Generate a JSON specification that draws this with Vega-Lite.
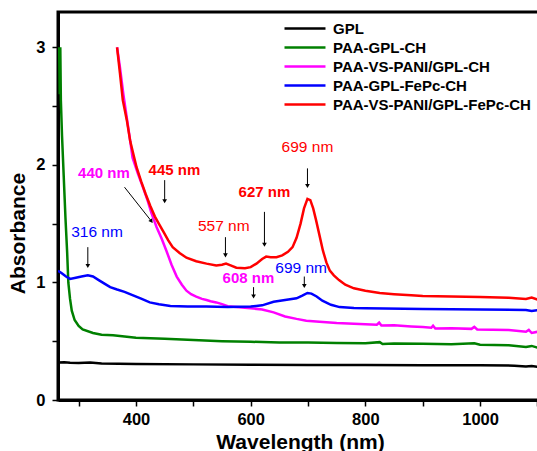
{
  "$schema": "https://vega.github.io/schema/vega-lite/v6.json",
  "width": 484,
  "height": 388,
  "autosize": {"type": "none"},
  "padding": {"left": 58, "top": 12, "right": 0, "bottom": 51},
  "background": "white",
  "config": {
    "font": "Liberation Sans",
    "view": {"stroke": "black", "strokeWidth": 3},
    "axis": {
      "grid": false,
      "domainColor": "black",
      "domainWidth": 3,
      "tickColor": "black",
      "tickWidth": 1.5,
      "tickSize": 6,
      "labelColor": "black",
      "labelFont": "Liberation Sans",
      "labelFontSize": 16.5,
      "labelFontWeight": "bold",
      "titleColor": "black",
      "titleFont": "Liberation Sans",
      "titleFontSize": 21,
      "titleFontWeight": "bold"
    }
  },
  "datasets": {
    "spectra": [
      {"series": "GPL", "wl": 264, "abs": 0.318},
      {"series": "GPL", "wl": 275, "abs": 0.322},
      {"series": "GPL", "wl": 285, "abs": 0.316},
      {"series": "GPL", "wl": 300, "abs": 0.314},
      {"series": "GPL", "wl": 320, "abs": 0.318},
      {"series": "GPL", "wl": 340, "abs": 0.31},
      {"series": "GPL", "wl": 400, "abs": 0.306},
      {"series": "GPL", "wl": 500, "abs": 0.303},
      {"series": "GPL", "wl": 600, "abs": 0.3},
      {"series": "GPL", "wl": 700, "abs": 0.298},
      {"series": "GPL", "wl": 800, "abs": 0.297},
      {"series": "GPL", "wl": 900, "abs": 0.296},
      {"series": "GPL", "wl": 1000, "abs": 0.295},
      {"series": "GPL", "wl": 1060, "abs": 0.292},
      {"series": "GPL", "wl": 1080, "abs": 0.286},
      {"series": "GPL", "wl": 1090, "abs": 0.29},
      {"series": "GPL", "wl": 1100, "abs": 0.283},

      {"series": "PAA-GPL-CH", "wl": 266, "abs": 3.0},
      {"series": "PAA-GPL-CH", "wl": 267, "abs": 2.6},
      {"series": "PAA-GPL-CH", "wl": 268, "abs": 3.0},
      {"series": "PAA-GPL-CH", "wl": 269, "abs": 2.55},
      {"series": "PAA-GPL-CH", "wl": 271, "abs": 2.25},
      {"series": "PAA-GPL-CH", "wl": 274, "abs": 1.9},
      {"series": "PAA-GPL-CH", "wl": 277, "abs": 1.55},
      {"series": "PAA-GPL-CH", "wl": 280, "abs": 1.25},
      {"series": "PAA-GPL-CH", "wl": 282, "abs": 1.0},
      {"series": "PAA-GPL-CH", "wl": 285, "abs": 0.86},
      {"series": "PAA-GPL-CH", "wl": 288, "abs": 0.76},
      {"series": "PAA-GPL-CH", "wl": 293, "abs": 0.68},
      {"series": "PAA-GPL-CH", "wl": 300, "abs": 0.63},
      {"series": "PAA-GPL-CH", "wl": 307, "abs": 0.6},
      {"series": "PAA-GPL-CH", "wl": 325, "abs": 0.57},
      {"series": "PAA-GPL-CH", "wl": 340, "abs": 0.555},
      {"series": "PAA-GPL-CH", "wl": 360, "abs": 0.55},
      {"series": "PAA-GPL-CH", "wl": 380, "abs": 0.54},
      {"series": "PAA-GPL-CH", "wl": 400, "abs": 0.53},
      {"series": "PAA-GPL-CH", "wl": 450, "abs": 0.52},
      {"series": "PAA-GPL-CH", "wl": 500, "abs": 0.51},
      {"series": "PAA-GPL-CH", "wl": 550, "abs": 0.5},
      {"series": "PAA-GPL-CH", "wl": 600, "abs": 0.495},
      {"series": "PAA-GPL-CH", "wl": 650, "abs": 0.49},
      {"series": "PAA-GPL-CH", "wl": 700, "abs": 0.488},
      {"series": "PAA-GPL-CH", "wl": 750, "abs": 0.485},
      {"series": "PAA-GPL-CH", "wl": 800, "abs": 0.482},
      {"series": "PAA-GPL-CH", "wl": 825, "abs": 0.492},
      {"series": "PAA-GPL-CH", "wl": 830, "abs": 0.476},
      {"series": "PAA-GPL-CH", "wl": 850, "abs": 0.48},
      {"series": "PAA-GPL-CH", "wl": 900, "abs": 0.478},
      {"series": "PAA-GPL-CH", "wl": 950, "abs": 0.475},
      {"series": "PAA-GPL-CH", "wl": 990, "abs": 0.482},
      {"series": "PAA-GPL-CH", "wl": 1000, "abs": 0.47},
      {"series": "PAA-GPL-CH", "wl": 1050, "abs": 0.465},
      {"series": "PAA-GPL-CH", "wl": 1080, "abs": 0.45},
      {"series": "PAA-GPL-CH", "wl": 1090, "abs": 0.46},
      {"series": "PAA-GPL-CH", "wl": 1100, "abs": 0.445},

      {"series": "PAA-VS-PANI/GPL-CH", "wl": 367, "abs": 3.0},
      {"series": "PAA-VS-PANI/GPL-CH", "wl": 372, "abs": 2.83},
      {"series": "PAA-VS-PANI/GPL-CH", "wl": 378, "abs": 2.6},
      {"series": "PAA-VS-PANI/GPL-CH", "wl": 384, "abs": 2.4},
      {"series": "PAA-VS-PANI/GPL-CH", "wl": 390, "abs": 2.2},
      {"series": "PAA-VS-PANI/GPL-CH", "wl": 394, "abs": 2.06},
      {"series": "PAA-VS-PANI/GPL-CH", "wl": 403, "abs": 1.93},
      {"series": "PAA-VS-PANI/GPL-CH", "wl": 412, "abs": 1.81},
      {"series": "PAA-VS-PANI/GPL-CH", "wl": 420, "abs": 1.7},
      {"series": "PAA-VS-PANI/GPL-CH", "wl": 427, "abs": 1.59},
      {"series": "PAA-VS-PANI/GPL-CH", "wl": 436, "abs": 1.47},
      {"series": "PAA-VS-PANI/GPL-CH", "wl": 445, "abs": 1.37},
      {"series": "PAA-VS-PANI/GPL-CH", "wl": 453, "abs": 1.27},
      {"series": "PAA-VS-PANI/GPL-CH", "wl": 462, "abs": 1.15},
      {"series": "PAA-VS-PANI/GPL-CH", "wl": 471, "abs": 1.05},
      {"series": "PAA-VS-PANI/GPL-CH", "wl": 480, "abs": 0.98},
      {"series": "PAA-VS-PANI/GPL-CH", "wl": 488, "abs": 0.93},
      {"series": "PAA-VS-PANI/GPL-CH", "wl": 496, "abs": 0.9},
      {"series": "PAA-VS-PANI/GPL-CH", "wl": 505, "abs": 0.88},
      {"series": "PAA-VS-PANI/GPL-CH", "wl": 515, "abs": 0.86},
      {"series": "PAA-VS-PANI/GPL-CH", "wl": 523, "abs": 0.85},
      {"series": "PAA-VS-PANI/GPL-CH", "wl": 530, "abs": 0.84},
      {"series": "PAA-VS-PANI/GPL-CH", "wl": 540, "abs": 0.83},
      {"series": "PAA-VS-PANI/GPL-CH", "wl": 550, "abs": 0.815},
      {"series": "PAA-VS-PANI/GPL-CH", "wl": 560, "abs": 0.798},
      {"series": "PAA-VS-PANI/GPL-CH", "wl": 580, "abs": 0.788},
      {"series": "PAA-VS-PANI/GPL-CH", "wl": 600, "abs": 0.78},
      {"series": "PAA-VS-PANI/GPL-CH", "wl": 620, "abs": 0.77},
      {"series": "PAA-VS-PANI/GPL-CH", "wl": 640, "abs": 0.745},
      {"series": "PAA-VS-PANI/GPL-CH", "wl": 660, "abs": 0.71},
      {"series": "PAA-VS-PANI/GPL-CH", "wl": 680, "abs": 0.69},
      {"series": "PAA-VS-PANI/GPL-CH", "wl": 697, "abs": 0.675},
      {"series": "PAA-VS-PANI/GPL-CH", "wl": 720, "abs": 0.665},
      {"series": "PAA-VS-PANI/GPL-CH", "wl": 750, "abs": 0.655},
      {"series": "PAA-VS-PANI/GPL-CH", "wl": 800, "abs": 0.645},
      {"series": "PAA-VS-PANI/GPL-CH", "wl": 820, "abs": 0.64},
      {"series": "PAA-VS-PANI/GPL-CH", "wl": 824, "abs": 0.658},
      {"series": "PAA-VS-PANI/GPL-CH", "wl": 828, "abs": 0.633},
      {"series": "PAA-VS-PANI/GPL-CH", "wl": 850, "abs": 0.635},
      {"series": "PAA-VS-PANI/GPL-CH", "wl": 880, "abs": 0.625},
      {"series": "PAA-VS-PANI/GPL-CH", "wl": 900, "abs": 0.62},
      {"series": "PAA-VS-PANI/GPL-CH", "wl": 915, "abs": 0.615},
      {"series": "PAA-VS-PANI/GPL-CH", "wl": 918, "abs": 0.632},
      {"series": "PAA-VS-PANI/GPL-CH", "wl": 922, "abs": 0.608},
      {"series": "PAA-VS-PANI/GPL-CH", "wl": 950, "abs": 0.61},
      {"series": "PAA-VS-PANI/GPL-CH", "wl": 985, "abs": 0.605},
      {"series": "PAA-VS-PANI/GPL-CH", "wl": 990, "abs": 0.622},
      {"series": "PAA-VS-PANI/GPL-CH", "wl": 995, "abs": 0.6},
      {"series": "PAA-VS-PANI/GPL-CH", "wl": 1050, "abs": 0.595},
      {"series": "PAA-VS-PANI/GPL-CH", "wl": 1080, "abs": 0.58},
      {"series": "PAA-VS-PANI/GPL-CH", "wl": 1085, "abs": 0.596},
      {"series": "PAA-VS-PANI/GPL-CH", "wl": 1090, "abs": 0.57},
      {"series": "PAA-VS-PANI/GPL-CH", "wl": 1100, "abs": 0.58},

      {"series": "PAA-GPL-FePc-CH", "wl": 264, "abs": 1.1},
      {"series": "PAA-GPL-FePc-CH", "wl": 270, "abs": 1.08},
      {"series": "PAA-GPL-FePc-CH", "wl": 278, "abs": 1.05},
      {"series": "PAA-GPL-FePc-CH", "wl": 285, "abs": 1.03},
      {"series": "PAA-GPL-FePc-CH", "wl": 295, "abs": 1.04},
      {"series": "PAA-GPL-FePc-CH", "wl": 305, "abs": 1.05},
      {"series": "PAA-GPL-FePc-CH", "wl": 316, "abs": 1.06},
      {"series": "PAA-GPL-FePc-CH", "wl": 325, "abs": 1.05},
      {"series": "PAA-GPL-FePc-CH", "wl": 335, "abs": 1.02},
      {"series": "PAA-GPL-FePc-CH", "wl": 345, "abs": 0.99},
      {"series": "PAA-GPL-FePc-CH", "wl": 355, "abs": 0.96},
      {"series": "PAA-GPL-FePc-CH", "wl": 367, "abs": 0.94},
      {"series": "PAA-GPL-FePc-CH", "wl": 380, "abs": 0.92},
      {"series": "PAA-GPL-FePc-CH", "wl": 395, "abs": 0.89},
      {"series": "PAA-GPL-FePc-CH", "wl": 410, "abs": 0.86},
      {"series": "PAA-GPL-FePc-CH", "wl": 424, "abs": 0.83},
      {"series": "PAA-GPL-FePc-CH", "wl": 440, "abs": 0.815},
      {"series": "PAA-GPL-FePc-CH", "wl": 460, "abs": 0.8},
      {"series": "PAA-GPL-FePc-CH", "wl": 490, "abs": 0.795},
      {"series": "PAA-GPL-FePc-CH", "wl": 523, "abs": 0.795},
      {"series": "PAA-GPL-FePc-CH", "wl": 560, "abs": 0.79},
      {"series": "PAA-GPL-FePc-CH", "wl": 600, "abs": 0.795},
      {"series": "PAA-GPL-FePc-CH", "wl": 620, "abs": 0.805},
      {"series": "PAA-GPL-FePc-CH", "wl": 640, "abs": 0.835},
      {"series": "PAA-GPL-FePc-CH", "wl": 660, "abs": 0.85},
      {"series": "PAA-GPL-FePc-CH", "wl": 680, "abs": 0.865},
      {"series": "PAA-GPL-FePc-CH", "wl": 690, "abs": 0.888},
      {"series": "PAA-GPL-FePc-CH", "wl": 699, "abs": 0.91},
      {"series": "PAA-GPL-FePc-CH", "wl": 706, "abs": 0.905},
      {"series": "PAA-GPL-FePc-CH", "wl": 715, "abs": 0.88},
      {"series": "PAA-GPL-FePc-CH", "wl": 725, "abs": 0.845},
      {"series": "PAA-GPL-FePc-CH", "wl": 740, "abs": 0.81},
      {"series": "PAA-GPL-FePc-CH", "wl": 755, "abs": 0.79},
      {"series": "PAA-GPL-FePc-CH", "wl": 780, "abs": 0.782},
      {"series": "PAA-GPL-FePc-CH", "wl": 800, "abs": 0.78},
      {"series": "PAA-GPL-FePc-CH", "wl": 900, "abs": 0.775},
      {"series": "PAA-GPL-FePc-CH", "wl": 1000, "abs": 0.77},
      {"series": "PAA-GPL-FePc-CH", "wl": 1080, "abs": 0.765},
      {"series": "PAA-GPL-FePc-CH", "wl": 1090, "abs": 0.758},
      {"series": "PAA-GPL-FePc-CH", "wl": 1100, "abs": 0.764},

      {"series": "PAA-VS-PANI/GPL-FePc-CH", "wl": 367, "abs": 3.0},
      {"series": "PAA-VS-PANI/GPL-FePc-CH", "wl": 372, "abs": 2.78},
      {"series": "PAA-VS-PANI/GPL-FePc-CH", "wl": 377, "abs": 2.55},
      {"series": "PAA-VS-PANI/GPL-FePc-CH", "wl": 384, "abs": 2.38},
      {"series": "PAA-VS-PANI/GPL-FePc-CH", "wl": 390, "abs": 2.2},
      {"series": "PAA-VS-PANI/GPL-FePc-CH", "wl": 396, "abs": 2.08},
      {"series": "PAA-VS-PANI/GPL-FePc-CH", "wl": 401, "abs": 1.98},
      {"series": "PAA-VS-PANI/GPL-FePc-CH", "wl": 409, "abs": 1.86},
      {"series": "PAA-VS-PANI/GPL-FePc-CH", "wl": 417, "abs": 1.75},
      {"series": "PAA-VS-PANI/GPL-FePc-CH", "wl": 425, "abs": 1.65},
      {"series": "PAA-VS-PANI/GPL-FePc-CH", "wl": 433, "abs": 1.56},
      {"series": "PAA-VS-PANI/GPL-FePc-CH", "wl": 441, "abs": 1.49},
      {"series": "PAA-VS-PANI/GPL-FePc-CH", "wl": 448, "abs": 1.43},
      {"series": "PAA-VS-PANI/GPL-FePc-CH", "wl": 456, "abs": 1.36},
      {"series": "PAA-VS-PANI/GPL-FePc-CH", "wl": 464, "abs": 1.3},
      {"series": "PAA-VS-PANI/GPL-FePc-CH", "wl": 476, "abs": 1.25},
      {"series": "PAA-VS-PANI/GPL-FePc-CH", "wl": 488, "abs": 1.21},
      {"series": "PAA-VS-PANI/GPL-FePc-CH", "wl": 505, "abs": 1.18},
      {"series": "PAA-VS-PANI/GPL-FePc-CH", "wl": 523, "abs": 1.16},
      {"series": "PAA-VS-PANI/GPL-FePc-CH", "wl": 540, "abs": 1.145},
      {"series": "PAA-VS-PANI/GPL-FePc-CH", "wl": 550, "abs": 1.15},
      {"series": "PAA-VS-PANI/GPL-FePc-CH", "wl": 557, "abs": 1.16},
      {"series": "PAA-VS-PANI/GPL-FePc-CH", "wl": 565, "abs": 1.145},
      {"series": "PAA-VS-PANI/GPL-FePc-CH", "wl": 575, "abs": 1.125},
      {"series": "PAA-VS-PANI/GPL-FePc-CH", "wl": 590, "abs": 1.12},
      {"series": "PAA-VS-PANI/GPL-FePc-CH", "wl": 600, "abs": 1.13},
      {"series": "PAA-VS-PANI/GPL-FePc-CH", "wl": 610, "abs": 1.16},
      {"series": "PAA-VS-PANI/GPL-FePc-CH", "wl": 620, "abs": 1.2},
      {"series": "PAA-VS-PANI/GPL-FePc-CH", "wl": 627, "abs": 1.22},
      {"series": "PAA-VS-PANI/GPL-FePc-CH", "wl": 635, "abs": 1.215},
      {"series": "PAA-VS-PANI/GPL-FePc-CH", "wl": 645, "abs": 1.215},
      {"series": "PAA-VS-PANI/GPL-FePc-CH", "wl": 655, "abs": 1.23},
      {"series": "PAA-VS-PANI/GPL-FePc-CH", "wl": 665, "abs": 1.26},
      {"series": "PAA-VS-PANI/GPL-FePc-CH", "wl": 673, "abs": 1.3},
      {"series": "PAA-VS-PANI/GPL-FePc-CH", "wl": 680, "abs": 1.38},
      {"series": "PAA-VS-PANI/GPL-FePc-CH", "wl": 687, "abs": 1.5},
      {"series": "PAA-VS-PANI/GPL-FePc-CH", "wl": 693, "abs": 1.63},
      {"series": "PAA-VS-PANI/GPL-FePc-CH", "wl": 699, "abs": 1.71},
      {"series": "PAA-VS-PANI/GPL-FePc-CH", "wl": 704, "abs": 1.7},
      {"series": "PAA-VS-PANI/GPL-FePc-CH", "wl": 709, "abs": 1.63},
      {"series": "PAA-VS-PANI/GPL-FePc-CH", "wl": 714, "abs": 1.53},
      {"series": "PAA-VS-PANI/GPL-FePc-CH", "wl": 720, "abs": 1.4},
      {"series": "PAA-VS-PANI/GPL-FePc-CH", "wl": 726, "abs": 1.27},
      {"series": "PAA-VS-PANI/GPL-FePc-CH", "wl": 732, "abs": 1.17},
      {"series": "PAA-VS-PANI/GPL-FePc-CH", "wl": 738, "abs": 1.1},
      {"series": "PAA-VS-PANI/GPL-FePc-CH", "wl": 745, "abs": 1.06},
      {"series": "PAA-VS-PANI/GPL-FePc-CH", "wl": 754, "abs": 1.02},
      {"series": "PAA-VS-PANI/GPL-FePc-CH", "wl": 765, "abs": 0.98},
      {"series": "PAA-VS-PANI/GPL-FePc-CH", "wl": 780, "abs": 0.95},
      {"series": "PAA-VS-PANI/GPL-FePc-CH", "wl": 800, "abs": 0.93},
      {"series": "PAA-VS-PANI/GPL-FePc-CH", "wl": 825, "abs": 0.91},
      {"series": "PAA-VS-PANI/GPL-FePc-CH", "wl": 850, "abs": 0.9},
      {"series": "PAA-VS-PANI/GPL-FePc-CH", "wl": 880, "abs": 0.89},
      {"series": "PAA-VS-PANI/GPL-FePc-CH", "wl": 900, "abs": 0.885},
      {"series": "PAA-VS-PANI/GPL-FePc-CH", "wl": 950, "abs": 0.88},
      {"series": "PAA-VS-PANI/GPL-FePc-CH", "wl": 1000, "abs": 0.875},
      {"series": "PAA-VS-PANI/GPL-FePc-CH", "wl": 1050, "abs": 0.87},
      {"series": "PAA-VS-PANI/GPL-FePc-CH", "wl": 1080, "abs": 0.86},
      {"series": "PAA-VS-PANI/GPL-FePc-CH", "wl": 1090, "abs": 0.872},
      {"series": "PAA-VS-PANI/GPL-FePc-CH", "wl": 1100, "abs": 0.855}
    ],
    "labels": [
      {"series": "PAA-GPL-FePc-CH", "text": "316 nm", "wl": 332, "abs": 1.43, "kind": "plain"},
      {"series": "PAA-VS-PANI/GPL-CH", "text": "440 nm", "wl": 344, "abs": 1.93, "kind": "bold"},
      {"series": "PAA-VS-PANI/GPL-FePc-CH", "text": "445 nm", "wl": 467, "abs": 1.955, "kind": "bold"},
      {"series": "PAA-VS-PANI/GPL-FePc-CH", "text": "557 nm", "wl": 553, "abs": 1.48, "kind": "plain"},
      {"series": "PAA-VS-PANI/GPL-FePc-CH", "text": "627 nm", "wl": 624, "abs": 1.77, "kind": "bold"},
      {"series": "PAA-VS-PANI/GPL-FePc-CH", "text": "699 nm", "wl": 699, "abs": 2.15, "kind": "plain"},
      {"series": "PAA-VS-PANI/GPL-CH", "text": "608 nm", "wl": 596, "abs": 1.04, "kind": "bold"},
      {"series": "PAA-GPL-FePc-CH", "text": "699 nm", "wl": 688, "abs": 1.12, "kind": "plain"}
    ],
    "arrows": [
      {"label": "316 nm", "wl": 316, "abs": 1.3, "wl2": 316, "abs2": 1.14},
      {"label": "440 nm", "wl": 380, "abs": 1.81, "wl2": 427, "abs2": 1.52},
      {"label": "445 nm", "wl": 450, "abs": 1.87, "wl2": 450, "abs2": 1.69},
      {"label": "557 nm", "wl": 556, "abs": 1.385, "wl2": 556, "abs2": 1.23},
      {"label": "627 nm", "wl": 624, "abs": 1.6, "wl2": 624, "abs2": 1.32},
      {"label": "699 nm red", "wl": 699, "abs": 1.97, "wl2": 699, "abs2": 1.82},
      {"label": "608 nm", "wl": 605, "abs": 0.96, "wl2": 605, "abs2": 0.88},
      {"label": "699 nm blue", "wl": 693.5, "abs": 1.05, "wl2": 693.5, "abs2": 0.97}
    ]
  },
  "layer": [
    {
      "data": {"name": "spectra"},
      "mark": {"type": "line", "strokeWidth": 2.5, "clip": true},
      "encoding": {
        "x": {
          "field": "wl", "type": "quantitative",
          "scale": {"domain": [264, 1108], "nice": false, "zero": false},
          "axis": {
            "title": "Wavelength (nm)",
            "values": [300, 400, 500, 600, 700, 800, 900, 1000, 1100],
            "labelExpr": "datum.value % 200 === 0 ? format(datum.value, 'd') : ''",
            "labelPadding": 5,
            "titleY": 48,
            "titleBaseline": "alphabetic"
          }
        },
        "y": {
          "field": "abs", "type": "quantitative",
          "scale": {"domain": [0, 3.3], "nice": false},
          "axis": {
            "title": "Absorbance",
            "values": [0, 0.5, 1, 1.5, 2, 2.5, 3],
            "labelExpr": "datum.value % 1 === 0 ? format(datum.value, 'd') : ''",
            "labelPadding": 7,
            "titleX": -40,
            "titleY": 221,
            "titleAlign": "center",
            "titleBaseline": "middle"
          }
        },
        "color": {
          "field": "series", "type": "nominal",
          "scale": {
            "domain": ["GPL", "PAA-GPL-CH", "PAA-VS-PANI/GPL-CH", "PAA-GPL-FePc-CH", "PAA-VS-PANI/GPL-FePc-CH"],
            "range": ["#000000", "#008000", "#ff00ff", "#0000ff", "#ff0000"]
          },
          "legend": {
            "title": null,
            "orient": "none",
            "legendX": 219,
            "legendY": 9,
            "symbolType": "M0,0H8",
            "symbolSize": 105,
            "symbolStrokeWidth": 2.5,
            "labelFont": "Liberation Sans",
            "labelFontSize": 15,
            "labelFontWeight": "bold",
            "labelColor": "black",
            "labelOffset": 41,
            "labelLimit": 400,
            "rowPadding": 3
          }
        }
      }
    },
    {
      "data": {"name": "arrows"},
      "mark": {"type": "rule", "color": "black", "strokeWidth": 1},
      "encoding": {
        "x": {"field": "wl", "type": "quantitative"},
        "y": {"field": "abs", "type": "quantitative"},
        "x2": {"field": "wl2"},
        "y2": {"field": "abs2"}
      }
    },
    {
      "data": {"name": "arrows"},
      "transform": [{"filter": "datum.label !== '440 nm'"}],
      "mark": {"type": "point", "shape": "triangle-down", "filled": true, "color": "black", "size": 22, "opacity": 1},
      "encoding": {
        "x": {"field": "wl2", "type": "quantitative"},
        "y": {"field": "abs2", "type": "quantitative"}
      }
    },
    {
      "data": {"name": "arrows"},
      "transform": [{"filter": "datum.label === '440 nm'"}],
      "mark": {"type": "point", "shape": "triangle-down", "filled": true, "color": "black", "size": 22, "opacity": 1, "angle": -37},
      "encoding": {
        "x": {"field": "wl2", "type": "quantitative"},
        "y": {"field": "abs2", "type": "quantitative"}
      }
    },
    {
      "data": {"name": "labels"},
      "transform": [{"filter": "datum.kind === 'plain'"}],
      "mark": {"type": "text", "fontSize": 15.5, "font": "Liberation Sans", "align": "center", "baseline": "middle"},
      "encoding": {
        "x": {"field": "wl", "type": "quantitative"},
        "y": {"field": "abs", "type": "quantitative"},
        "text": {"field": "text"},
        "color": {"field": "series", "type": "nominal", "legend": null}
      }
    },
    {
      "data": {"name": "labels"},
      "transform": [{"filter": "datum.kind === 'bold'"}],
      "mark": {"type": "text", "fontSize": 15, "font": "Liberation Sans", "fontWeight": "bold", "align": "center", "baseline": "middle"},
      "encoding": {
        "x": {"field": "wl", "type": "quantitative"},
        "y": {"field": "abs", "type": "quantitative"},
        "text": {"field": "text"},
        "color": {"field": "series", "type": "nominal", "legend": null}
      }
    }
  ]
}
